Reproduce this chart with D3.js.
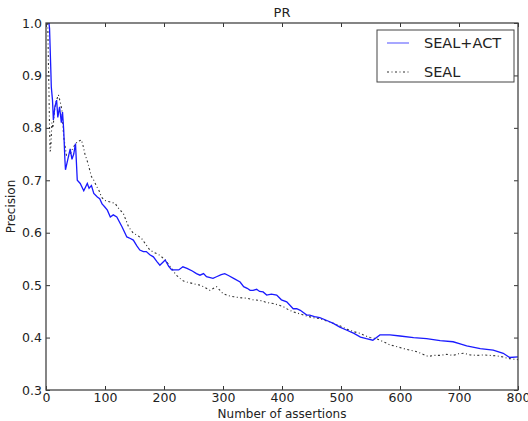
<!doctype html>
<html lang='en'>
  <head>
    <meta charset='utf-8' />
    <style>
      * { padding: 0; margin: 0; }
      body { background: #fff; font-family: 'DejaVu Sans', sans-serif; }
      #container { width: 528px; height: 421px; }
      .tick text { fill: #222; }
    </style>
    <title>PR</title>
  </head>
  <body>
    <div id='container'></div>
    <script src='https://d3js.org/d3.v7.min.js'></script>
    <script type='text/javascript'>

      // SEAL+ACT (solid blue)
      var actX = [5,6,8,9,11,12.5,15,18,20,23,26,28,30,32,33,38,41,44,47,50,53,58,64,70,73,77,81,87,91,95,99,104,109,114,120,129,137,143,148,154,159,165,170,176,182,188,193,202,208,213,225,232,239,248,255,261,267,272,283,289,297,303,310,318,329,335,341,346,351,357,362,368,374,382,391,399,408,419,425,431,442,447,455,464,475,487,498,510,522,533,543,554,566,583,600,623,645,668,690,702,713,736,758,775,786,800];
      var actY = [1.0,0.99,0.917,0.878,0.853,0.815,0.84,0.853,0.82,0.84,0.81,0.83,0.796,0.74,0.72,0.745,0.76,0.74,0.75,0.77,0.70,0.694,0.68,0.694,0.685,0.69,0.675,0.668,0.665,0.655,0.65,0.643,0.63,0.634,0.63,0.611,0.592,0.589,0.586,0.575,0.567,0.564,0.564,0.558,0.554,0.545,0.538,0.548,0.536,0.529,0.529,0.535,0.532,0.527,0.522,0.519,0.522,0.516,0.513,0.516,0.52,0.522,0.518,0.513,0.506,0.497,0.494,0.49,0.49,0.492,0.488,0.487,0.481,0.483,0.481,0.472,0.468,0.455,0.455,0.452,0.443,0.443,0.44,0.438,0.433,0.427,0.42,0.414,0.408,0.401,0.398,0.395,0.405,0.405,0.403,0.40,0.398,0.394,0.392,0.388,0.384,0.379,0.376,0.37,0.362,0.363];

      // SEAL (black dash-dot)
      var sealX = [3,4,5,6,7,8,10,12,14,17,21,24,27,30,33,35,38,41,45,50,54,60,63,66,71,77,81,86,90,94,99,104,111,117,124,131,140,148,155,162,169,176,184,193,202,213,220,227,233,239,249,261,269,278,289,300,309,318,329,341,351,362,374,385,394,402,411,419,431,442,453,464,480,495,510,522,533,538,549,560,572,583,594,606,617,629,639,648,658,668,679,690,699,708,719,730,742,752,764,775,784,800];
      var sealY = [1.0,0.93,0.87,0.80,0.755,0.76,0.81,0.80,0.83,0.85,0.863,0.85,0.834,0.783,0.76,0.745,0.745,0.75,0.76,0.77,0.774,0.777,0.765,0.75,0.733,0.707,0.70,0.688,0.68,0.668,0.662,0.66,0.658,0.656,0.645,0.637,0.611,0.599,0.595,0.589,0.578,0.567,0.562,0.557,0.548,0.532,0.52,0.513,0.508,0.506,0.503,0.5,0.496,0.49,0.497,0.484,0.48,0.478,0.476,0.475,0.472,0.471,0.467,0.465,0.462,0.459,0.453,0.449,0.445,0.441,0.438,0.436,0.43,0.424,0.416,0.411,0.408,0.405,0.40,0.398,0.392,0.386,0.383,0.379,0.376,0.373,0.368,0.364,0.366,0.366,0.368,0.366,0.369,0.37,0.367,0.366,0.367,0.366,0.365,0.363,0.36,0.358];

      var xTicks = [0,100,200,300,400,500,600,700,800];
      var yTicks = [0.3,0.4,0.5,0.6,0.7,0.8,0.9,1.0];
      var legendNames = ['SEAL+ACT', 'SEAL'];

      const svg_width = 528,
            svg_height = 421,
            margin = {top: 23, right: 10, bottom: 31, left: 46};

      var w = svg_width - margin.left - margin.right,
          h = svg_height - margin.top - margin.bottom;

      var svg = d3.select('#container').append('svg')
          .attr('width', svg_width)
          .attr('height', svg_height)
          .style('display', 'block');

      var g = svg.append('g')
          .attr('transform', 'translate(' + margin.left + ',' + margin.top + ')');

      var x = d3.scaleLinear().domain([0, 800]).range([0, w]);
      var y = d3.scaleLinear().domain([0.3, 1.0]).range([h, 0]);

      var fmt = d3.format('.1f');

      function styleAxis(sel) {
        sel.select('.domain').remove();
        sel.selectAll('.tick line').attr('stroke', '#333').attr('stroke-width', 1);
        sel.selectAll('.tick text').attr('font-size', 12.5).attr('font-family', 'DejaVu Sans, sans-serif');
      }

      g.append('g')
        .attr('transform', 'translate(0,' + h + ')')
        .call(d3.axisBottom(x).tickValues(xTicks).tickSizeInner(-4).tickSizeOuter(0).tickPadding(3).tickFormat(d3.format('d')))
        .call(styleAxis);
      g.append('g')
        .call(d3.axisTop(x).tickValues(xTicks).tickSizeInner(-4).tickSizeOuter(0).tickFormat(''))
        .call(styleAxis);
      g.append('g')
        .call(d3.axisLeft(y).tickValues(yTicks).tickSizeInner(-4).tickSizeOuter(0).tickPadding(4).tickFormat(fmt))
        .call(styleAxis);
      g.append('g')
        .attr('transform', 'translate(' + w + ',0)')
        .call(d3.axisRight(y).tickValues(yTicks).tickSizeInner(-4).tickSizeOuter(0).tickFormat(''))
        .call(styleAxis);

      var line = d3.line()
        .x(function(d) { return x(d[0]); })
        .y(function(d) { return y(d[1]); });

      g.append('defs').append('clipPath').attr('id', 'clip')
        .append('rect').attr('width', w).attr('height', h);

      var sealData = sealX.map(function(v, i) { return [v, sealY[i]]; });
      var actData = actX.map(function(v, i) { return [v, actY[i]]; });

      g.append('path')
        .datum(sealData)
        .attr('clip-path', 'url(#clip)')
        .attr('fill', 'none')
        .attr('stroke', '#333')
        .attr('stroke-width', 1.1)
        .attr('stroke-dasharray', '2,2.5,1,2.5')
        .attr('d', line);

      g.append('path')
        .datum(actData)
        .attr('clip-path', 'url(#clip)')
        .attr('fill', 'none')
        .attr('stroke', '#1a1aff')
        .attr('stroke-width', 1.3)
        .attr('d', line);

      // frame
      g.append('rect')
        .attr('width', w)
        .attr('height', h)
        .attr('fill', 'none')
        .attr('stroke', '#444')
        .attr('stroke-width', 1.3);

      // title and axis labels
      svg.append('text')
        .attr('x', margin.left + w / 2)
        .attr('y', 17)
        .attr('text-anchor', 'middle')
        .attr('font-size', 13)
        .attr('fill', '#222')
        .text('PR');

      svg.append('text')
        .attr('x', margin.left + w / 2)
        .attr('y', 418)
        .attr('text-anchor', 'middle')
        .attr('font-size', 12)
        .attr('fill', '#222')
        .text('Number of assertions');

      svg.append('text')
        .attr('transform', 'translate(15,' + (margin.top + h / 2) + ') rotate(-90)')
        .attr('text-anchor', 'middle')
        .attr('font-size', 12)
        .attr('fill', '#222')
        .text('Precision');

      // legend
      var lg = svg.append('g').attr('transform', 'translate(377,30)');
      lg.append('rect')
        .attr('width', 137)
        .attr('height', 52)
        .attr('fill', '#fff')
        .attr('stroke', '#444')
        .attr('stroke-width', 1);
      var items = lg.selectAll('.item')
        .data(legendNames)
        .enter().append('g')
        .attr('transform', function(d, i) { return 'translate(0,' + (13 + i * 29) + ')'; });
      items.append('line')
        .attr('x1', 10).attr('x2', 32)
        .attr('y1', 0).attr('y2', 0)
        .attr('stroke', function(d, i) { return i === 0 ? '#7777ff' : '#333'; })
        .attr('stroke-width', function(d, i) { return i === 0 ? 1.3 : 1.1; })
        .attr('stroke-dasharray', function(d, i) { return i === 0 ? null : '2,2.5,1,2.5'; });
      items.append('text')
        .attr('x', 47)
        .attr('y', 5)
        .attr('font-size', 14.5)
        .attr('fill', '#222')
        .text(function(d) { return d; });
    </script>
  </body>
</html>
